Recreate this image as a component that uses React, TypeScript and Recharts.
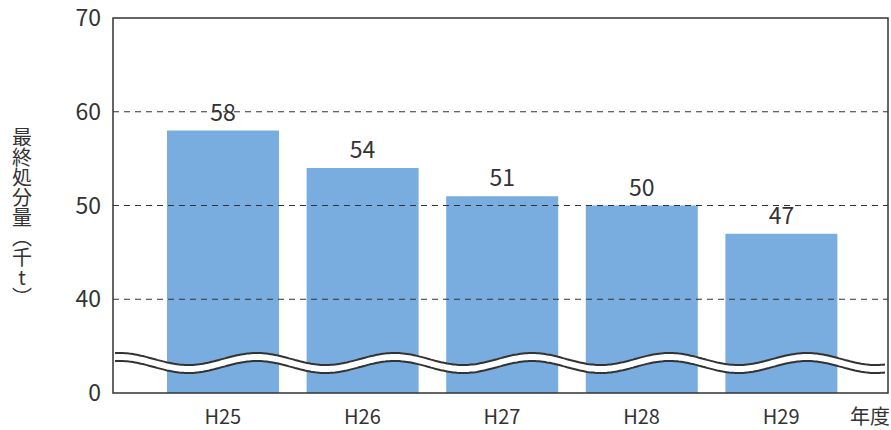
import React from 'react';
import {
  BarChart,
  Bar,
  XAxis,
  YAxis,
  ReferenceLine,
  LabelList,
} from 'recharts';

const years = ['H25', 'H26', 'H27', 'H28', 'H29'];
const disposal = [58, 54, 51, 50, 47];
const yTicks = [30, 40, 50, 60, 70];

const data = years.map((y, i) => ({ year: y, value: disposal[i] }));

const FONT = '"Noto Sans CJK JP", "Noto Sans", sans-serif';
const INK = '#333';
const BAR = '#7aaddf';

// plot box, from the chart margins / axis sizes below
const W = 891;
const H = 430;
const M = { top: 18, right: 3, left: 113, bottom: 37 };
const PX = M.left;
const PY = M.top;
const PW = W - M.left - M.right;
const PH = H - M.top - M.bottom;

// axis break: white wavy band with dark edges, drawn over the bars
const AxisBreak = () => {
  const mid = PY + PH - 30;
  const period = 137.5;
  const amp = 6;
  const phase = 144;
  const pts = (off: number) => {
    const out: [number, number][] = [];
    for (let px = 2; px <= PW - 2; px += 2) {
      const yy = mid + off - amp * Math.cos((2 * Math.PI * (px - phase)) / period);
      out.push([PX + px, yy]);
    }
    return out;
  };
  const top = pts(-4);
  const bot = pts(4);
  const d = (p: [number, number][]) => p.map((q, i) => (i ? 'L' : 'M') + q[0].toFixed(1) + ' ' + q[1].toFixed(1)).join(' ');
  const fillPath =
    d(top) + ' ' + bot.slice().reverse().map((q) => 'L' + q[0].toFixed(1) + ' ' + q[1].toFixed(1)).join(' ') + ' Z';
  return (
    <g>
      <path d={fillPath} fill="#fff" stroke="none" />
      <path d={d(top)} fill="none" stroke={INK} strokeWidth={2} />
      <path d={d(bot)} fill="none" stroke={INK} strokeWidth={2} />
    </g>
  );
};

const XTick = (props: any) => {
  const { x, payload } = props;
  return (
    <text x={x} y={424} textAnchor="middle" fontSize={20} fill={INK} fontFamily={FONT}>
      {payload.value}
    </text>
  );
};

const YTick = (props: any) => {
  const { y, payload } = props;
  return (
    <text x={101} y={y} dy={8} textAnchor="end" fontSize={23} fill={INK} fontFamily={FONT}>
      {payload.value === 30 ? '0' : payload.value}
    </text>
  );
};

const BarLabel = (props: any) => {
  const { x, y, width, value } = props;
  return (
    <text x={x + width / 2} y={y - 10} textAnchor="middle" fontSize={23} fill={INK} fontFamily={FONT}>
      {value}
    </text>
  );
};

export default function App() {
  return (
    <div style={{ position: 'absolute', left: 0, top: 0, width: W, height: H, background: '#fff' }}>
      <div style={{ position: 'absolute', left: 0, top: 0 }}>
        <BarChart width={W} height={H} data={data} margin={{ top: M.top, right: M.right, bottom: 0, left: 0 }}>
          <XAxis
            dataKey="year"
            height={M.bottom}
            padding={{ left: 40, right: 37 }}
            tickLine={false}
            axisLine={false}
            tick={<XTick />}
          />
          <YAxis
            width={M.left}
            type="number"
            domain={[30, 70]}
            ticks={yTicks}
            allowDataOverflow
            tickLine={false}
            axisLine={false}
            tick={<YTick />}
          />
          <Bar dataKey="value" fill={BAR} barSize={112} isAnimationActive={false}>
            <LabelList dataKey="value" content={<BarLabel />} />
          </Bar>
          {[40, 50, 60].map((v) => (
            <ReferenceLine key={v} y={v} stroke={INK} strokeDasharray="6 5" strokeWidth={1} />
          ))}
        </BarChart>
      </div>
      <svg width={W} height={H} style={{ position: 'absolute', left: 0, top: 0, pointerEvents: 'none' }}>
        <AxisBreak />
        <rect x={PX} y={PY} width={PW} height={PH} fill="none" stroke={INK} strokeWidth={1.5} />
        <text
          x={22}
          y={127}
          fontSize={20}
          fill={INK}
          fontFamily={FONT}
          style={{ writingMode: 'vertical-rl', textOrientation: 'upright' } as any}
        >
          最終処分量（千t）
        </text>
        <text x={890} y={424} textAnchor="end" fontSize={20} fill={INK} fontFamily={FONT}>
          年度
        </text>
      </svg>
    </div>
  );
}
